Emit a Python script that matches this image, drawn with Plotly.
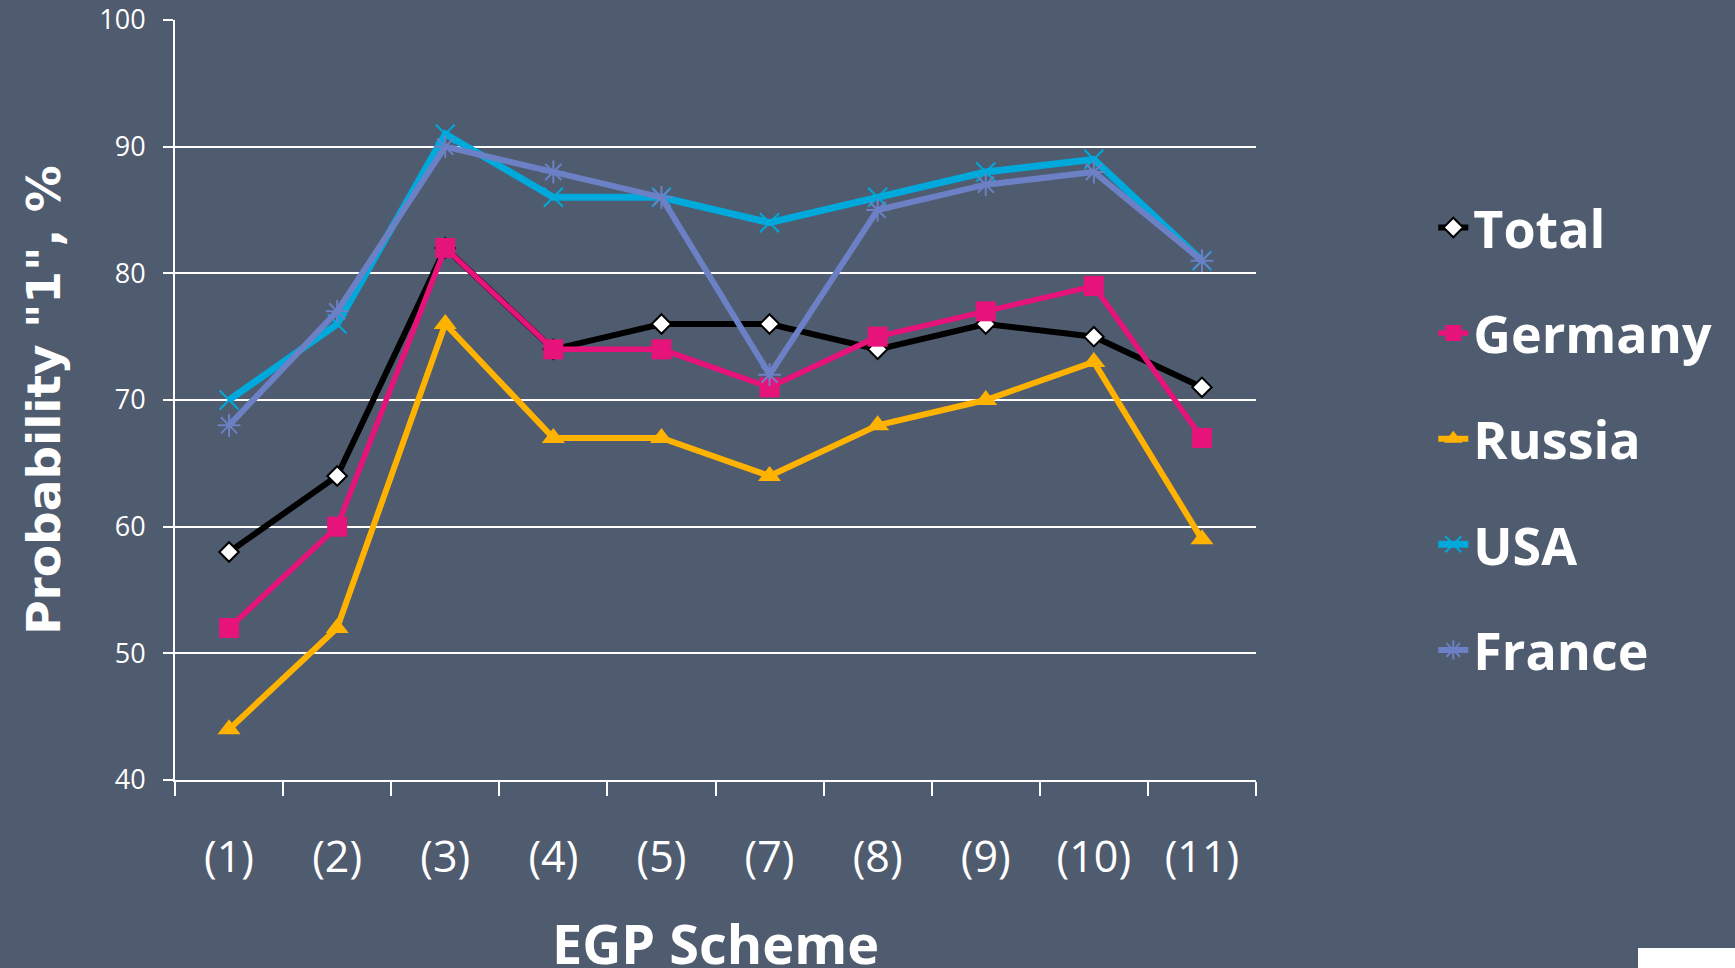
import plotly.graph_objects as go

categories = ["(1)", "(2)", "(3)", "(4)", "(5)", "(7)", "(8)", "(9)", "(10)", "(11)"]
total = [58, 64, 82, 74, 76, 76, 74, 76, 75, 71]
germany = [52, 60, 82, 74, 74, 71, 75, 77, 79, 67]
russia = [44, 52, 76, 67, 67, 64, 68, 70, 73, 59]
usa = [70, 76, 91, 86, 86, 84, 86, 88, 89, 81]
france = [68, 77, 90, 88, 86, 72, 85, 87, 88, 81]
y_ticks = [40, 50, 60, 70, 80, 90, 100]
x_title = "EGP Scheme"
y_title = 'Probability "1", %'

BG = "#4f5b6e"
W = 1735
H = 968
L, R, T, B = 175, W - 1256, 20, H - 780
PLOT_W, PLOT_H = W - L - R, H - T - B

series = [
    ("Total", total, dict(color="black", width=6),
     dict(symbol="diamond", size=15, color="white", line=dict(color="black", width=2))),
    ("Germany", germany, dict(color="#e6137a", width=5.5),
     dict(symbol="square", size=20, color="#e6137a", line=dict(width=0))),
    ("Russia", russia, dict(color="#ffb300", width=6),
     dict(symbol="triangle-up", size=20, color="#ffb300", line=dict(width=0))),
    ("USA", usa, dict(color="#00a9dc", width=7),
     dict(symbol="x-thin", size=19, color="#00a9dc", line=dict(color="#00a9dc", width=2))),
    ("France", france, dict(color="#6c80c5", width=6),
     dict(symbol="asterisk", size=19, color="#6c80c5", line=dict(color="#6c80c5", width=2))),
]

fig = go.Figure()
for name, vals, line, marker in series:
    fig.add_trace(go.Scatter(
        x=categories, y=vals, name=name, mode="lines+markers",
        line=line, marker=marker, legendgroup=name,
    ))

fig.update_layout(
    template="none",
    width=W, height=H,
    margin=dict(l=L, r=R, t=T, b=B, autoexpand=False),
    paper_bgcolor=BG, plot_bgcolor=BG,
    showlegend=True,
    legend=dict(
        x=1.164, xanchor="left", y=0.78, yanchor="top",
        font=dict(family="Open Sans", size=52, color="white", weight="bold"),
        bgcolor="rgba(0,0,0,0)", borderwidth=0,
        tracegroupgap=35, itemwidth=30,
    ),
    xaxis=dict(
        type="category", categoryorder="array", categoryarray=categories,
        range=[-0.5, 9.5],
        showline=True, linecolor="white", linewidth=2,
        showgrid=False, zeroline=False,
        ticks="outside", tickson="boundaries", ticklen=14, tickwidth=2, tickcolor="white",
        tickfont=dict(family="Open Sans", size=43, color="white"),
        ticklabelstandoff=38,
        automargin=False, fixedrange=True,
    ),
    yaxis=dict(
        range=[40, 100], tickvals=y_ticks,
        showline=True, linecolor="white", linewidth=2,
        showgrid=True, gridcolor="white", gridwidth=2,
        zeroline=False,
        ticks="outside", ticklen=10, tickwidth=2, tickcolor="white",
        tickfont=dict(family="Open Sans", size=27, color="white"),
        ticklabelstandoff=12,
        title=dict(text=y_title, standoff=24,
                   font=dict(family="DejaVu Sans", size=47, color="white", weight="bold")),
        automargin=False, fixedrange=True,
    ),
)

# x-axis title placed as an annotation (the reference lets it run to the bottom edge)
fig.add_annotation(
    text=x_title, xref="paper", yref="paper",
    x=(715 - L) / PLOT_W, y=(780 - 943) / PLOT_H,
    xanchor="center", yanchor="middle", showarrow=False,
    font=dict(family="Open Sans", size=54, color="white", weight="bold"),
)

# partial logo at the bottom-right corner (decoration)
fig.add_shape(type="rect", xref="paper", yref="paper",
              x0=(1638 - L) / PLOT_W, x1=(1740 - L) / PLOT_W,
              y0=(780 - 948) / PLOT_H, y1=(780 - 975) / PLOT_H,
              fillcolor="white", line=dict(width=0), layer="above")

fig.write_html(
    "out.html",
    config={"displayModeBar": False},
    post_script="document.body.style.margin='0';document.body.style.background='%s';" % BG,
)
